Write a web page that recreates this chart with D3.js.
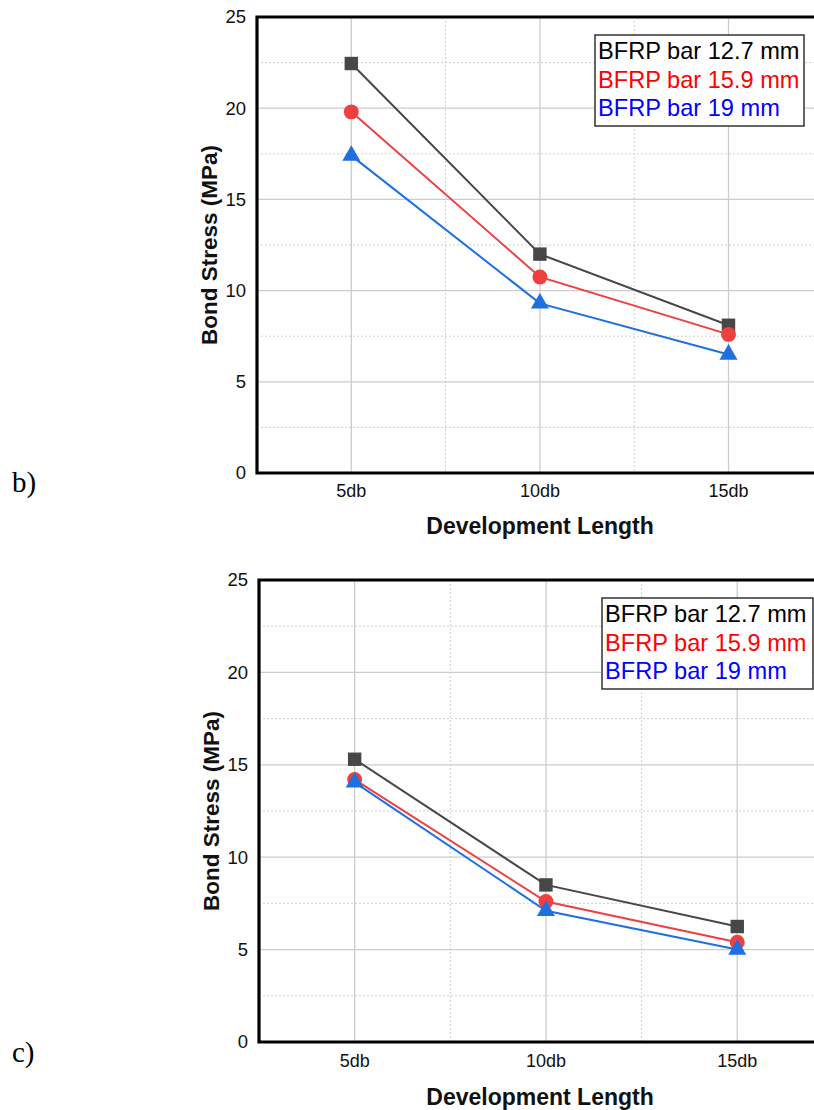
<!DOCTYPE html>
<html>
<head>
<meta charset="utf-8">
<script src="https://cdn.jsdelivr.net/npm/d3@7"></script>
<style>
  html, body { margin: 0; padding: 0; background: #fff; }
  svg { display: block; }
  text { font-family: Arial, "Liberation Sans", sans-serif; }
</style>
</head>
<body>
<svg id="chart" width="814" height="1110"></svg>
<script>
// data
const categories = ["5db", "10db", "15db"];
const seriesNames = ["BFRP bar 12.7 mm", "BFRP bar 15.9 mm", "BFRP bar 19 mm"];
const yTicks = [0, 5, 10, 15, 20, 25];

const b_127 = [22.45, 12.0, 8.1];
const b_159 = [19.8, 10.75, 7.6];
const b_19 = [17.4, 9.3, 6.5];

const c_127 = [15.3, 8.5, 6.25];
const c_159 = [14.2, 7.6, 5.4];
const c_19 = [14.05, 7.1, 5.0];

// styles per series
let lineColors = ["#474747", "#ee4040", "#1e6fe0"];
let legendColors = ["#000000", "#ff0000", "#0000ff"];
let symbols = [d3.symbolSquare, d3.symbolCircle, d3.symbolTriangle];
let symbolSizes = [180, 175, 140];

let svg = d3.select("#chart");

function drawPanel(cfg, series) {
  let g = svg.append("g");

  let x = d3.scaleBand()
            .domain(categories)
            .range([cfg.left, cfg.left + categories.length * cfg.step])
            .padding(0);
  let y = d3.scaleLinear()
            .domain([0, 25])
            .range([cfg.bottom, cfg.top]);
  let right = cfg.left + categories.length * cfg.step;
  let cx = function(c) { return x(c) + x.bandwidth() / 2; };

  // minor dotted grid
  let minorY = d3.range(2.5, 25, 5);
  g.selectAll(".minor-y")
   .data(minorY)
   .enter()
   .append("line")
   .attr("x1", cfg.left + 4)
   .attr("x2", right)
   .attr("y1", d => y(d))
   .attr("y2", d => y(d))
   .attr("stroke", "#cfcfcf")
   .attr("stroke-width", 1)
   .attr("stroke-dasharray", "2,2");

  g.selectAll(".minor-x")
   .data(categories.slice(1))
   .enter()
   .append("line")
   .attr("x1", d => x(d))
   .attr("x2", d => x(d))
   .attr("y1", cfg.top + 4)
   .attr("y2", cfg.bottom)
   .attr("stroke", "#cfcfcf")
   .attr("stroke-width", 1)
   .attr("stroke-dasharray", "2,2");

  // major grid
  g.selectAll(".major-y")
   .data(yTicks.filter(d => d > 0 && d < 25))
   .enter()
   .append("line")
   .attr("x1", cfg.left)
   .attr("x2", right)
   .attr("y1", d => y(d))
   .attr("y2", d => y(d))
   .attr("stroke", "#cccccc")
   .attr("stroke-width", 1.3);

  g.selectAll(".major-x")
   .data(categories)
   .enter()
   .append("line")
   .attr("x1", d => cx(d))
   .attr("x2", d => cx(d))
   .attr("y1", cfg.top)
   .attr("y2", cfg.bottom)
   .attr("stroke", "#cccccc")
   .attr("stroke-width", 1.3);

  // series lines
  let line = d3.line()
               .x((d, i) => cx(categories[i]))
               .y(d => y(d));

  series.forEach(function(vals, s) {
    g.append("path")
     .datum(vals)
     .attr("d", line)
     .attr("fill", "none")
     .attr("stroke", lineColors[s])
     .attr("stroke-width", 2);
  });

  series.forEach(function(vals, s) {
    g.selectAll(".mark-" + s)
     .data(vals)
     .enter()
     .append("path")
     .attr("class", "mark-" + s)
     .attr("transform", (d, i) => "translate(" + cx(categories[i]) + "," + y(d) + ")")
     .attr("d", d3.symbol().type(symbols[s]).size(symbolSizes[s]))
     .attr("fill", lineColors[s]);
  });

  // frame (left, bottom, top)
  g.append("path")
   .attr("d", "M" + right + "," + cfg.top + "H" + cfg.left + "V" + cfg.bottom + "H" + right)
   .attr("fill", "none")
   .attr("stroke", "#000")
   .attr("stroke-width", 3.2);

  // axes
  let yAxis = g.append("g")
               .attr("transform", "translate(" + cfg.left + ",0)")
               .call(d3.axisLeft(y).tickValues(yTicks).tickSize(0).tickPadding(11));
  yAxis.select(".domain").remove();
  yAxis.selectAll("text")
       .attr("font-size", 18.5)
       .attr("fill", "#111")
       .style("font-family", "Arial, 'Liberation Sans', sans-serif");

  let xAxis = g.append("g")
               .attr("transform", "translate(0," + cfg.bottom + ")")
               .call(d3.axisBottom(x).tickSize(0).tickPadding(cfg.xPad));
  xAxis.select(".domain").remove();
  xAxis.selectAll("text")
       .attr("font-size", 18)
       .attr("fill", "#111")
       .style("font-family", "Arial, 'Liberation Sans', sans-serif");

  // axis titles
  g.append("text")
   .attr("x", 540)
   .attr("y", cfg.xTitleY)
   .attr("text-anchor", "middle")
   .attr("font-size", 23)
   .attr("font-weight", "bold")
   .attr("fill", "#111")
   .text("Development Length");

  g.append("text")
   .attr("transform", "translate(" + cfg.yTitleX + "," + ((cfg.top + cfg.bottom) / 2) + ") rotate(-90)")
   .attr("text-anchor", "middle")
   .attr("dy", "0.35em")
   .attr("font-size", 22.5)
   .attr("font-weight", "bold")
   .attr("fill", "#111")
   .text("Bond Stress (MPa)");

  // legend
  let legend = g.append("g")
                .attr("transform", "translate(" + cfg.legX + "," + cfg.legY + ")");
  legend.append("rect")
        .attr("width", cfg.legW)
        .attr("height", 91)
        .attr("fill", "#fff")
        .attr("stroke", "#333")
        .attr("stroke-width", 1.5);
  legend.selectAll("text")
        .data(seriesNames)
        .enter()
        .append("text")
        .attr("x", 3)
        .attr("y", (d, i) => 24 + i * 28.5)
        .attr("font-size", 23.6)
        .attr("fill", (d, i) => legendColors[i])
        .text(d => d);

  // panel letter
  svg.append("text")
     .attr("x", 12)
     .attr("y", cfg.letterY)
     .attr("font-size", 29)
     .style("font-family", "'Times New Roman', 'Liberation Serif', serif")
     .attr("fill", "#000")
     .text(cfg.letter);
}

drawPanel({
  left: 257, top: 17, bottom: 473, step: 188.6, xPad: 11,
  xTitleY: 534, yTitleX: 209,
  legX: 595, legY: 35, legW: 209,
  letter: "b)", letterY: 492
}, [b_127, b_159, b_19]);

drawPanel({
  left: 259, top: 580, bottom: 1042, step: 191.3, xPad: 12,
  xTitleY: 1105, yTitleX: 211,
  legX: 602, legY: 598, legW: 211,
  letter: "c)", letterY: 1062
}, [c_127, c_159, c_19]);
</script>
</body>
</html>
